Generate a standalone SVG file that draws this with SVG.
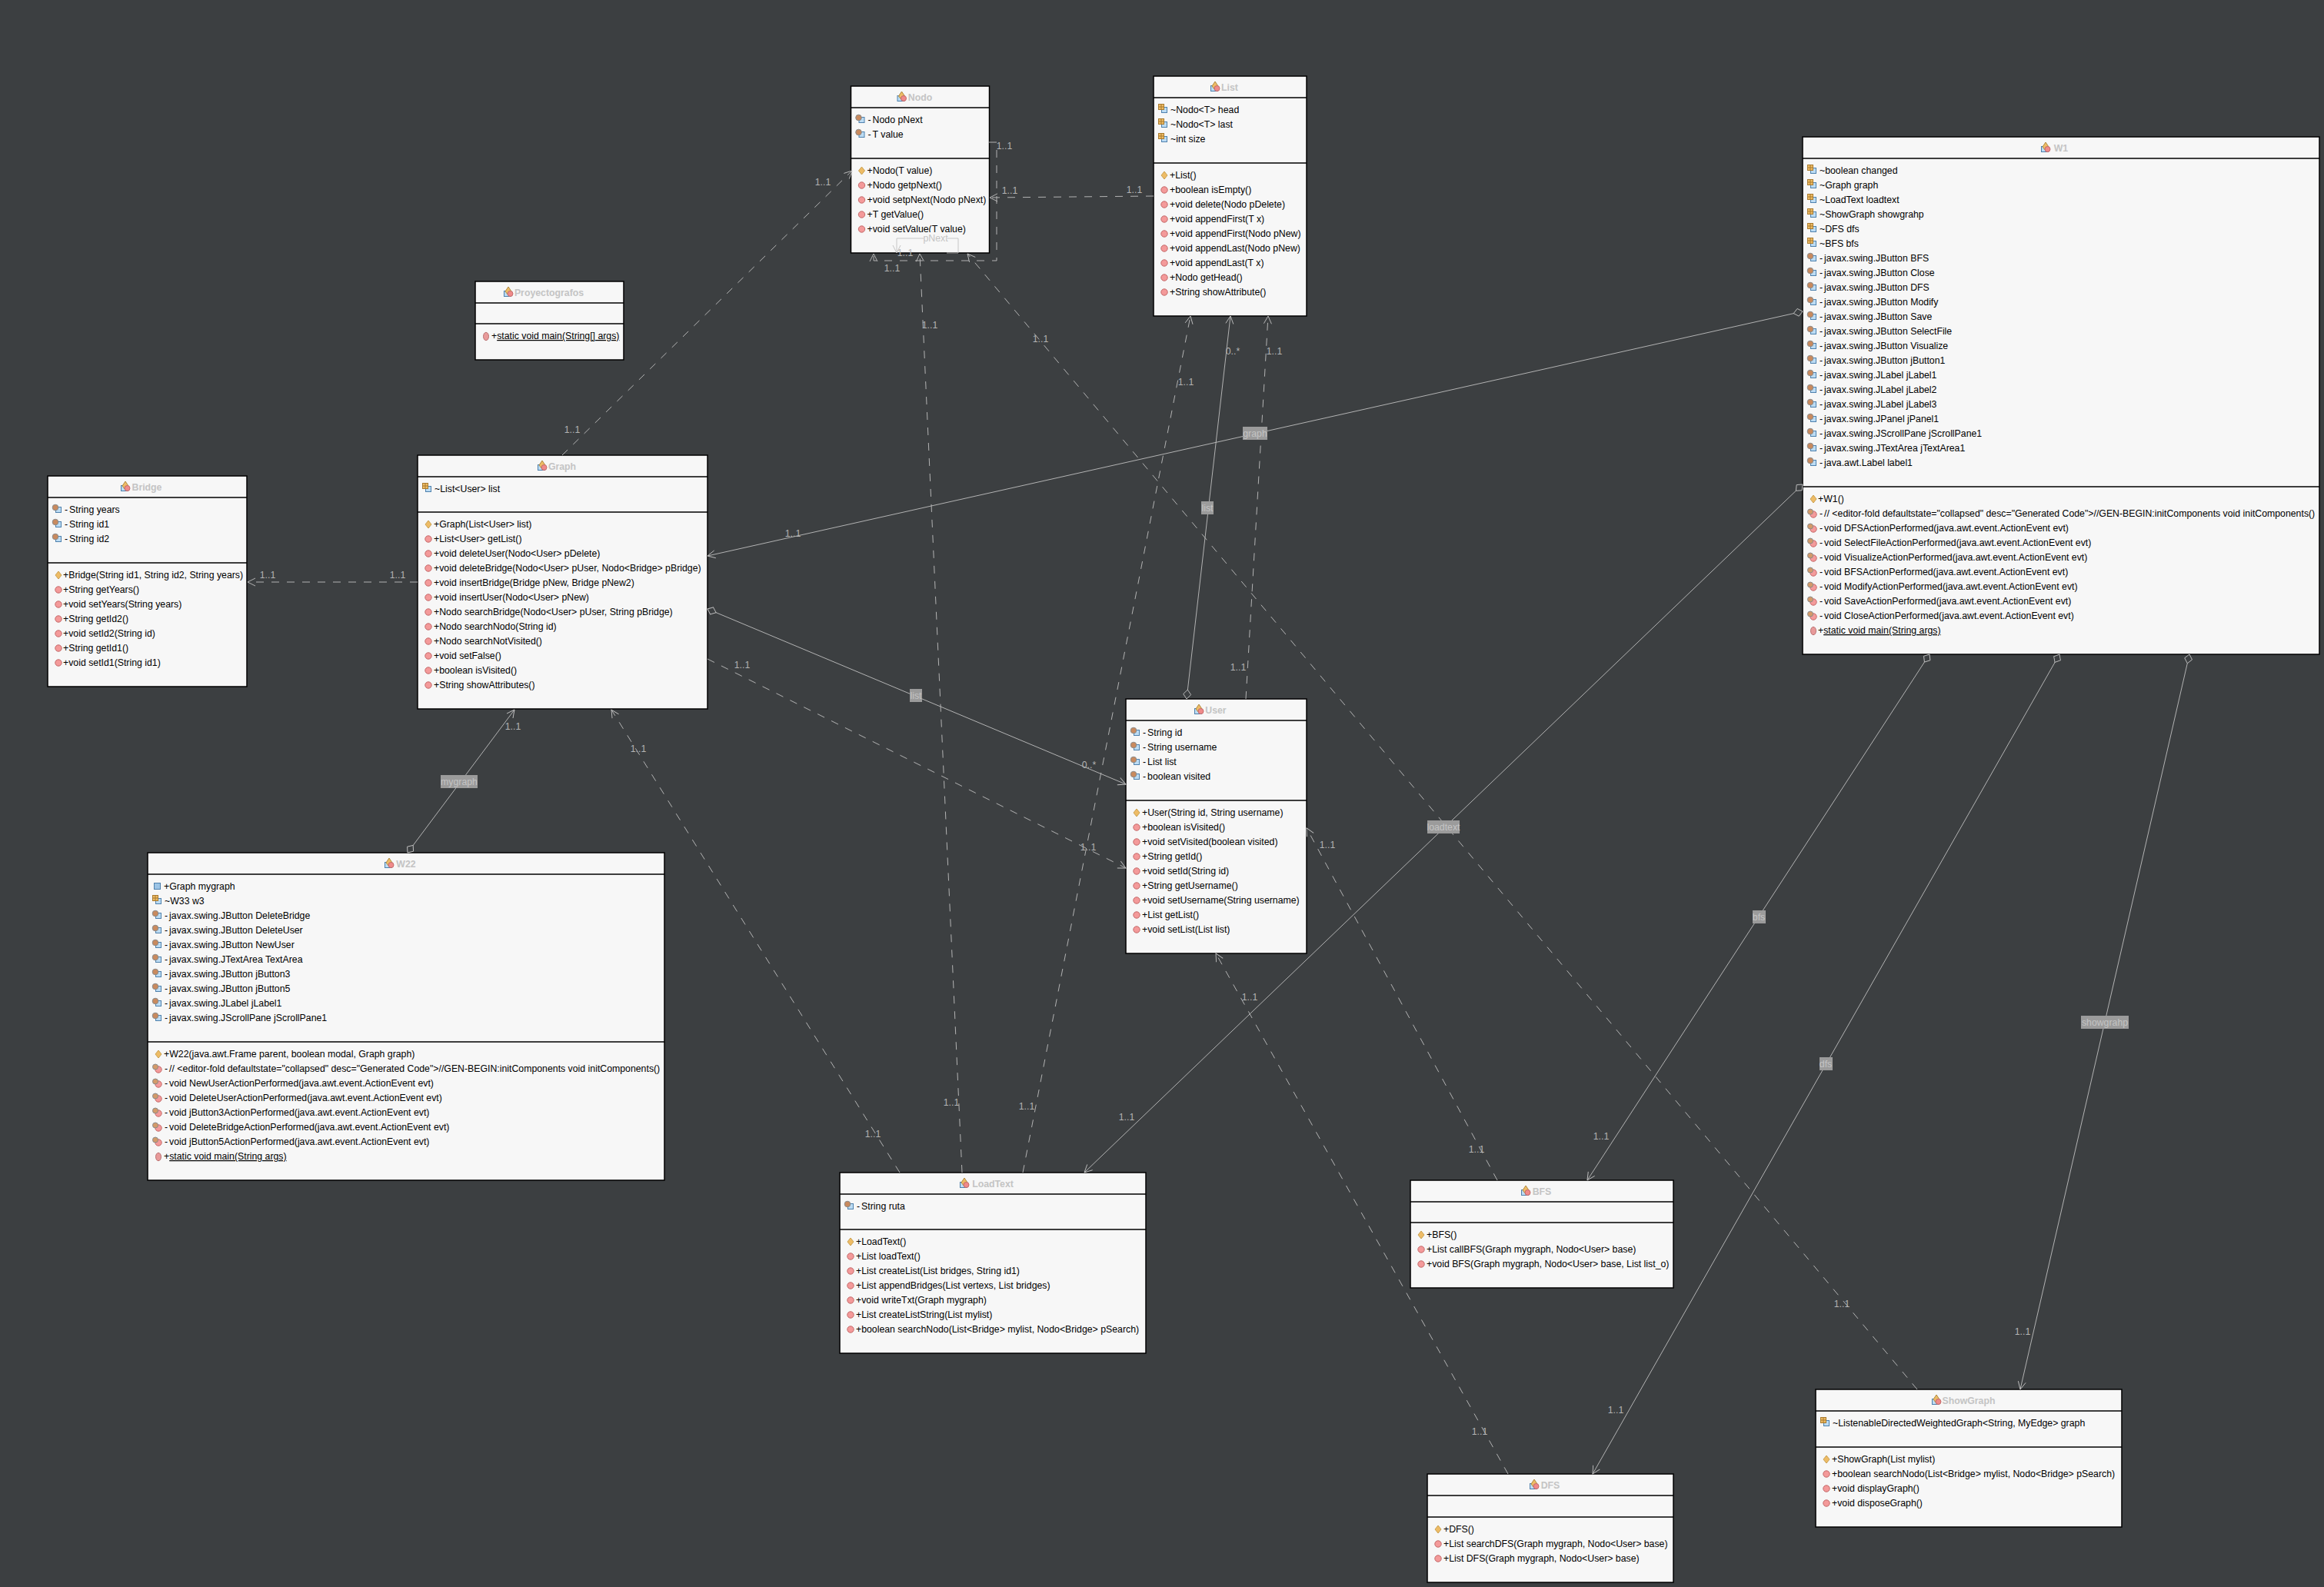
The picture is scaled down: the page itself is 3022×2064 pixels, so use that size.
<svg xmlns="http://www.w3.org/2000/svg" width="3022" height="2064" viewBox="0 0 3022 2064">
<style>
text{font-family:"Liberation Sans",Arial,sans-serif;font-size:12.3px;fill:#000;transform:translateY(-.5px)}
.box{fill:#f7f7f7;stroke:#000;stroke-width:1.5}
.sep{stroke:#000;stroke-width:1.5}
.n{font-weight:bold;fill:#c4c4c4;text-anchor:middle}
.c{fill:none;stroke:#c0c0c0;stroke-width:.9}
.d{stroke-dasharray:10 10}
.a{marker-end:url(#arr)}
.o{marker-start:url(#dia)}
.l{fill:#b4b4b4;text-anchor:middle}
.lb{fill:#9b9b9b}
.lt{fill:#c4c4c4;text-anchor:middle}
.u{text-decoration:underline}
</style>
<defs>
<marker id="arr" markerUnits="userSpaceOnUse" markerWidth="16" markerHeight="16" refX="10" refY="6" orient="auto" overflow="visible"><path d="M0,1L10,6L0,11" fill="none" stroke="#c0c0c0" stroke-width=".9"/></marker>
<marker id="dia" markerUnits="userSpaceOnUse" markerWidth="16" markerHeight="12" refX="0" refY="5" orient="auto" overflow="visible"><path d="M0,5L6,0L12,5L6,10Z" fill="#3c3f41" stroke="#c0c0c0" stroke-width=".9"/></marker>
<g id="doc"><rect x="10.500" y="-7.500" width="7" height="7" fill="#bcdcf4" stroke="#4f81ad"/></g>
<g id="ifield"><use href="#doc"/><rect x="6.500" y="-11.500" width="7" height="7" fill="#eebc66" stroke="#a87a2e"/><path d="M6.500,-8H13.500M10,-11.500V-4.500" stroke="#a87a2e"/></g>
<g id="pfield"><use href="#doc"/><circle cx="10" cy="-7" r="3.800" fill="#c98a5e" stroke="#8a8a8a"/></g>
<rect id="pub" x="8.500" y="-8.500" width="8" height="8" fill="#9cc4e6" stroke="#4f81ad"/>
<path id="ctor" d="M14,-9.500L18,-4.500L14,0.500L10,-4.500Z" fill="#eebc66" stroke="#c9a050"/>
<circle id="mth" cx="14" cy="-4.500" r="4.200" fill="#f49a9a" stroke="#c46a6a"/>
<g id="pmth"><circle cx="14" cy="-3.500" r="4.200" fill="#f49a9a" stroke="#c46a6a"/><circle cx="10" cy="-7" r="3.500" fill="#d49a68" stroke="#8a8a8a"/></g>
<ellipse id="smth" cx="14" cy="-4" rx="3.500" ry="5.200" fill="#e89a9a" stroke="#b87070"/>
<g id="cls"><rect x="0.500" y="-6.500" width="9" height="7" fill="#bcdcf4" stroke="#4f81ad"/><path d="M6,-12L10,-6L6,-1L2,-6Z" fill="#eebc66" stroke="#b08a40"/><circle cx="8.500" cy="-3" r="3.500" fill="#f08a8a" stroke="#c46a6a"/></g>
</defs>
<rect width="3022" height="2064" fill="#3c3f41"/>

<g id="Nodo" transform="translate(1106.500,112)">
<rect class="box" width="180" height="217"/><path class="sep" d="M0,28H180M0,94H180"/>
<use href="#cls" x="60" y="19"/><text class="n" x="90" y="19">Nodo</text>
<use href="#pfield" y="48"/><text x="22" y="48">-<tspan dx="2">Nodo pNext</tspan></text>
<use href="#pfield" y="67"/><text x="22" y="67">-<tspan dx="2">T value</tspan></text>
<use href="#ctor" y="114.500"/><text x="21" y="114.500">+Nodo(T value)</text>
<use href="#mth" y="133.500"/><text x="21" y="133.500">+Nodo getpNext()</text>
<use href="#mth" y="152.500"/><text x="21" y="152.500">+void setpNext(Nodo pNext)</text>
<use href="#mth" y="171.500"/><text x="21" y="171.500">+T getValue()</text>
<use href="#mth" y="190.500"/><text x="21" y="190.500">+void setValue(T value)</text>
</g>

<g id="List" transform="translate(1500,99)">
<rect class="box" width="199" height="312"/><path class="sep" d="M0,28H199M0,113H199"/>
<use href="#cls" x="74" y="19"/><text class="n" x="99" y="19">List</text>
<use href="#ifield" y="48"/><text x="22" y="48">~Nodo&lt;T&gt; head</text>
<use href="#ifield" y="67"/><text x="22" y="67">~Nodo&lt;T&gt; last</text>
<use href="#ifield" y="86"/><text x="22" y="86">~int size</text>
<use href="#ctor" y="133.500"/><text x="21" y="133.500">+List()</text>
<use href="#mth" y="152.500"/><text x="21" y="152.500">+boolean isEmpty()</text>
<use href="#mth" y="171.500"/><text x="21" y="171.500">+void delete(Nodo pDelete)</text>
<use href="#mth" y="190.500"/><text x="21" y="190.500">+void appendFirst(T x)</text>
<use href="#mth" y="209.500"/><text x="21" y="209.500">+void appendFirst(Nodo pNew)</text>
<use href="#mth" y="228.500"/><text x="21" y="228.500">+void appendLast(Nodo pNew)</text>
<use href="#mth" y="247.500"/><text x="21" y="247.500">+void appendLast(T x)</text>
<use href="#mth" y="266.500"/><text x="21" y="266.500">+Nodo getHead()</text>
<use href="#mth" y="285.500"/><text x="21" y="285.500">+String showAttribute()</text>
</g>

<g id="Proyectografos" transform="translate(618,366)">
<rect class="box" width="193" height="102"/><path class="sep" d="M0,28H193M0,55H193"/>
<use href="#cls" x="37" y="19"/><text class="n" x="96" y="19">Proyectografos</text>
<use href="#smth" y="75.500"/><text x="21" y="75.500">+<tspan class="u">static void main(String[] args)</tspan></text>
</g>

<g id="W1" transform="translate(2344,178)">
<rect class="box" width="672" height="673"/><path class="sep" d="M0,28H672M0,455H672"/>
<use href="#cls" x="310" y="19"/><text class="n" x="336" y="19">W1</text>
<use href="#ifield" y="48"/><text x="22" y="48">~boolean changed</text>
<use href="#ifield" y="67"/><text x="22" y="67">~Graph graph</text>
<use href="#ifield" y="86"/><text x="22" y="86">~LoadText loadtext</text>
<use href="#ifield" y="105"/><text x="22" y="105">~ShowGraph showgrahp</text>
<use href="#ifield" y="124"/><text x="22" y="124">~DFS dfs</text>
<use href="#ifield" y="143"/><text x="22" y="143">~BFS bfs</text>
<use href="#pfield" y="162"/><text x="22" y="162">-<tspan dx="2">javax.swing.JButton BFS</tspan></text>
<use href="#pfield" y="181"/><text x="22" y="181">-<tspan dx="2">javax.swing.JButton Close</tspan></text>
<use href="#pfield" y="200"/><text x="22" y="200">-<tspan dx="2">javax.swing.JButton DFS</tspan></text>
<use href="#pfield" y="219"/><text x="22" y="219">-<tspan dx="2">javax.swing.JButton Modify</tspan></text>
<use href="#pfield" y="238"/><text x="22" y="238">-<tspan dx="2">javax.swing.JButton Save</tspan></text>
<use href="#pfield" y="257"/><text x="22" y="257">-<tspan dx="2">javax.swing.JButton SelectFile</tspan></text>
<use href="#pfield" y="276"/><text x="22" y="276">-<tspan dx="2">javax.swing.JButton Visualize</tspan></text>
<use href="#pfield" y="295"/><text x="22" y="295">-<tspan dx="2">javax.swing.JButton jButton1</tspan></text>
<use href="#pfield" y="314"/><text x="22" y="314">-<tspan dx="2">javax.swing.JLabel jLabel1</tspan></text>
<use href="#pfield" y="333"/><text x="22" y="333">-<tspan dx="2">javax.swing.JLabel jLabel2</tspan></text>
<use href="#pfield" y="352"/><text x="22" y="352">-<tspan dx="2">javax.swing.JLabel jLabel3</tspan></text>
<use href="#pfield" y="371"/><text x="22" y="371">-<tspan dx="2">javax.swing.JPanel jPanel1</tspan></text>
<use href="#pfield" y="390"/><text x="22" y="390">-<tspan dx="2">javax.swing.JScrollPane jScrollPane1</tspan></text>
<use href="#pfield" y="409"/><text x="22" y="409">-<tspan dx="2">javax.swing.JTextArea jTextArea1</tspan></text>
<use href="#pfield" y="428"/><text x="22" y="428">-<tspan dx="2">java.awt.Label label1</tspan></text>
<use href="#ctor" y="475.500"/><text x="20" y="475.500">+W1()</text>
<use href="#pmth" y="494.500"/><text x="22" y="494.500">-<tspan dx="2">// &lt;editor-fold defaultstate="collapsed" desc="Generated Code"&gt;//GEN-BEGIN:initComponents void initComponents()</tspan></text>
<use href="#pmth" y="513.500"/><text x="22" y="513.500">-<tspan dx="2">void DFSActionPerformed(java.awt.event.ActionEvent evt)</tspan></text>
<use href="#pmth" y="532.500"/><text x="22" y="532.500">-<tspan dx="2">void SelectFileActionPerformed(java.awt.event.ActionEvent evt)</tspan></text>
<use href="#pmth" y="551.500"/><text x="22" y="551.500">-<tspan dx="2">void VisualizeActionPerformed(java.awt.event.ActionEvent evt)</tspan></text>
<use href="#pmth" y="570.500"/><text x="22" y="570.500">-<tspan dx="2">void BFSActionPerformed(java.awt.event.ActionEvent evt)</tspan></text>
<use href="#pmth" y="589.500"/><text x="22" y="589.500">-<tspan dx="2">void ModifyActionPerformed(java.awt.event.ActionEvent evt)</tspan></text>
<use href="#pmth" y="608.500"/><text x="22" y="608.500">-<tspan dx="2">void SaveActionPerformed(java.awt.event.ActionEvent evt)</tspan></text>
<use href="#pmth" y="627.500"/><text x="22" y="627.500">-<tspan dx="2">void CloseActionPerformed(java.awt.event.ActionEvent evt)</tspan></text>
<use href="#smth" y="646.500"/><text x="20" y="646.500">+<tspan class="u">static void main(String args)</tspan></text>
</g>

<g id="Bridge" transform="translate(62,619)">
<rect class="box" width="259" height="274"/><path class="sep" d="M0,28H259M0,113H259"/>
<use href="#cls" x="95" y="19"/><text class="n" x="129" y="19">Bridge</text>
<use href="#pfield" y="48"/><text x="22" y="48">-<tspan dx="2">String years</tspan></text>
<use href="#pfield" y="67"/><text x="22" y="67">-<tspan dx="2">String id1</tspan></text>
<use href="#pfield" y="86"/><text x="22" y="86">-<tspan dx="2">String id2</tspan></text>
<use href="#ctor" y="133.500"/><text x="20" y="133.500">+Bridge(String id1, String id2, String years)</text>
<use href="#mth" y="152.500"/><text x="20" y="152.500">+String getYears()</text>
<use href="#mth" y="171.500"/><text x="20" y="171.500">+void setYears(String years)</text>
<use href="#mth" y="190.500"/><text x="20" y="190.500">+String getId2()</text>
<use href="#mth" y="209.500"/><text x="20" y="209.500">+void setId2(String id)</text>
<use href="#mth" y="228.500"/><text x="20" y="228.500">+String getId1()</text>
<use href="#mth" y="247.500"/><text x="20" y="247.500">+void setId1(String id1)</text>
</g>

<g id="Graph" transform="translate(543,592)">
<rect class="box" width="377" height="330"/><path class="sep" d="M0,28H377M0,74H377"/>
<use href="#cls" x="156" y="19"/><text class="n" x="188" y="19">Graph</text>
<use href="#ifield" y="48"/><text x="22" y="48">~List&lt;User&gt; list</text>
<use href="#ctor" y="94.500"/><text x="21" y="94.500">+Graph(List&lt;User&gt; list)</text>
<use href="#mth" y="113.500"/><text x="21" y="113.500">+List&lt;User&gt; getList()</text>
<use href="#mth" y="132.500"/><text x="21" y="132.500">+void deleteUser(Nodo&lt;User&gt; pDelete)</text>
<use href="#mth" y="151.500"/><text x="21" y="151.500">+void deleteBridge(Nodo&lt;User&gt; pUser, Nodo&lt;Bridge&gt; pBridge)</text>
<use href="#mth" y="170.500"/><text x="21" y="170.500">+void insertBridge(Bridge pNew, Bridge pNew2)</text>
<use href="#mth" y="189.500"/><text x="21" y="189.500">+void insertUser(Nodo&lt;User&gt; pNew)</text>
<use href="#mth" y="208.500"/><text x="21" y="208.500">+Nodo searchBridge(Nodo&lt;User&gt; pUser, String pBridge)</text>
<use href="#mth" y="227.500"/><text x="21" y="227.500">+Nodo searchNodo(String id)</text>
<use href="#mth" y="246.500"/><text x="21" y="246.500">+Nodo searchNotVisited()</text>
<use href="#mth" y="265.500"/><text x="21" y="265.500">+void setFalse()</text>
<use href="#mth" y="284.500"/><text x="21" y="284.500">+boolean isVisited()</text>
<use href="#mth" y="303.500"/><text x="21" y="303.500">+String showAttributes()</text>
</g>

<g id="W22" transform="translate(192,1109)">
<rect class="box" width="672" height="426"/><path class="sep" d="M0,28H672M0,246H672"/>
<use href="#cls" x="308" y="19"/><text class="n" x="336" y="19">W22</text>
<use href="#pub" y="48"/><text x="21" y="48">+Graph mygraph</text>
<use href="#ifield" y="67"/><text x="22" y="67">~W33 w3</text>
<use href="#pfield" y="86"/><text x="22" y="86">-<tspan dx="2">javax.swing.JButton DeleteBridge</tspan></text>
<use href="#pfield" y="105"/><text x="22" y="105">-<tspan dx="2">javax.swing.JButton DeleteUser</tspan></text>
<use href="#pfield" y="124"/><text x="22" y="124">-<tspan dx="2">javax.swing.JButton NewUser</tspan></text>
<use href="#pfield" y="143"/><text x="22" y="143">-<tspan dx="2">javax.swing.JTextArea TextArea</tspan></text>
<use href="#pfield" y="162"/><text x="22" y="162">-<tspan dx="2">javax.swing.JButton jButton3</tspan></text>
<use href="#pfield" y="181"/><text x="22" y="181">-<tspan dx="2">javax.swing.JButton jButton5</tspan></text>
<use href="#pfield" y="200"/><text x="22" y="200">-<tspan dx="2">javax.swing.JLabel jLabel1</tspan></text>
<use href="#pfield" y="219"/><text x="22" y="219">-<tspan dx="2">javax.swing.JScrollPane jScrollPane1</tspan></text>
<use href="#ctor" y="266.500"/><text x="21" y="266.500">+W22(java.awt.Frame parent, boolean modal, Graph graph)</text>
<use href="#pmth" y="285.500"/><text x="22" y="285.500">-<tspan dx="2">// &lt;editor-fold defaultstate="collapsed" desc="Generated Code"&gt;//GEN-BEGIN:initComponents void initComponents()</tspan></text>
<use href="#pmth" y="304.500"/><text x="22" y="304.500">-<tspan dx="2">void NewUserActionPerformed(java.awt.event.ActionEvent evt)</tspan></text>
<use href="#pmth" y="323.500"/><text x="22" y="323.500">-<tspan dx="2">void DeleteUserActionPerformed(java.awt.event.ActionEvent evt)</tspan></text>
<use href="#pmth" y="342.500"/><text x="22" y="342.500">-<tspan dx="2">void jButton3ActionPerformed(java.awt.event.ActionEvent evt)</tspan></text>
<use href="#pmth" y="361.500"/><text x="22" y="361.500">-<tspan dx="2">void DeleteBridgeActionPerformed(java.awt.event.ActionEvent evt)</tspan></text>
<use href="#pmth" y="380.500"/><text x="22" y="380.500">-<tspan dx="2">void jButton5ActionPerformed(java.awt.event.ActionEvent evt)</tspan></text>
<use href="#smth" y="399.500"/><text x="21" y="399.500">+<tspan class="u">static void main(String args)</tspan></text>
</g>

<g id="User" transform="translate(1464,909)">
<rect class="box" width="235" height="331"/><path class="sep" d="M0,28H235M0,132H235"/>
<use href="#cls" x="89" y="19"/><text class="n" x="117" y="19">User</text>
<use href="#pfield" y="48"/><text x="22" y="48">-<tspan dx="2">String id</tspan></text>
<use href="#pfield" y="67"/><text x="22" y="67">-<tspan dx="2">String username</tspan></text>
<use href="#pfield" y="86"/><text x="22" y="86">-<tspan dx="2">List list</tspan></text>
<use href="#pfield" y="105"/><text x="22" y="105">-<tspan dx="2">boolean visited</tspan></text>
<use href="#ctor" y="152.500"/><text x="21" y="152.500">+User(String id, String username)</text>
<use href="#mth" y="171.500"/><text x="21" y="171.500">+boolean isVisited()</text>
<use href="#mth" y="190.500"/><text x="21" y="190.500">+void setVisited(boolean visited)</text>
<use href="#mth" y="209.500"/><text x="21" y="209.500">+String getId()</text>
<use href="#mth" y="228.500"/><text x="21" y="228.500">+void setId(String id)</text>
<use href="#mth" y="247.500"/><text x="21" y="247.500">+String getUsername()</text>
<use href="#mth" y="266.500"/><text x="21" y="266.500">+void setUsername(String username)</text>
<use href="#mth" y="285.500"/><text x="21" y="285.500">+List getList()</text>
<use href="#mth" y="304.500"/><text x="21" y="304.500">+void setList(List list)</text>
</g>

<g id="LoadText" transform="translate(1092,1525)">
<rect class="box" width="398" height="235"/><path class="sep" d="M0,28H398M0,74H398"/>
<use href="#cls" x="156" y="19"/><text class="n" x="199" y="19">LoadText</text>
<use href="#pfield" y="48"/><text x="22" y="48">-<tspan dx="2">String ruta</tspan></text>
<use href="#ctor" y="94.500"/><text x="21" y="94.500">+LoadText()</text>
<use href="#mth" y="113.500"/><text x="21" y="113.500">+List loadText()</text>
<use href="#mth" y="132.500"/><text x="21" y="132.500">+List createList(List bridges, String id1)</text>
<use href="#mth" y="151.500"/><text x="21" y="151.500">+List appendBridges(List vertexs, List bridges)</text>
<use href="#mth" y="170.500"/><text x="21" y="170.500">+void writeTxt(Graph mygraph)</text>
<use href="#mth" y="189.500"/><text x="21" y="189.500">+List createListString(List mylist)</text>
<use href="#mth" y="208.500"/><text x="21" y="208.500">+boolean searchNodo(List&lt;Bridge&gt; mylist, Nodo&lt;Bridge&gt; pSearch)</text>
</g>

<g id="BFS" transform="translate(1834,1535)">
<rect class="box" width="342" height="140"/><path class="sep" d="M0,28H342M0,55H342"/>
<use href="#cls" x="144" y="19"/><text class="n" x="171" y="19">BFS</text>
<use href="#ctor" y="75.500"/><text x="21" y="75.500">+BFS()</text>
<use href="#mth" y="94.500"/><text x="21" y="94.500">+List callBFS(Graph mygraph, Nodo&lt;User&gt; base)</text>
<use href="#mth" y="113.500"/><text x="21" y="113.500">+void BFS(Graph mygraph, Nodo&lt;User&gt; base, List list_o)</text>
</g>

<g id="DFS" transform="translate(1856,1917)">
<rect class="box" width="320" height="141"/><path class="sep" d="M0,28H320M0,56H320"/>
<use href="#cls" x="133" y="19"/><text class="n" x="160" y="19">DFS</text>
<use href="#ctor" y="76.500"/><text x="21" y="76.500">+DFS()</text>
<use href="#mth" y="95.500"/><text x="21" y="95.500">+List searchDFS(Graph mygraph, Nodo&lt;User&gt; base)</text>
<use href="#mth" y="114.500"/><text x="21" y="114.500">+List DFS(Graph mygraph, Nodo&lt;User&gt; base)</text>
</g>

<g id="ShowGraph" transform="translate(2361,1807)">
<rect class="box" width="398" height="179"/><path class="sep" d="M0,28H398M0,75H398"/>
<use href="#cls" x="151" y="19"/><text class="n" x="199" y="19">ShowGraph</text>
<use href="#ifield" y="48"/><text x="22" y="48">~ListenableDirectedWeightedGraph&lt;String, MyEdge&gt; graph</text>
<use href="#ctor" y="95.500"/><text x="21" y="95.500">+ShowGraph(List mylist)</text>
<use href="#mth" y="114.500"/><text x="21" y="114.500">+boolean searchNodo(List&lt;Bridge&gt; mylist, Nodo&lt;Bridge&gt; pSearch)</text>
<use href="#mth" y="133.500"/><text x="21" y="133.500">+void displayGraph()</text>
<use href="#mth" y="152.500"/><text x="21" y="152.500">+void disposeGraph()</text>
</g>

<g id="connectors">
<path class="c d a" d="M731,592L1108,222"/>
<path class="c a" d="M1231,329H1246V310H1166V329"/>
<path class="c d a" d="M1286,185H1296V339H1136V330"/>
<path class="c d a" d="M1500,255L1287,257"/>
<path class="c d a" d="M1251,1525L1196,330"/>
<path class="c d a" d="M1330,1525L1548,411"/>
<path class="c d a" d="M1170,1525L795,923"/>
<path class="c o a" d="M530,1109L669,923"/>
<path class="c d a" d="M543,757L322,757"/>
<path class="c o a" d="M2344,405L920,723"/>
<path class="c o a" d="M1543,909L1600,411"/>
<path class="c d a" d="M1620,909L1649,411"/>
<path class="c o a" d="M920,792L1464,1020"/>
<path class="c d a" d="M920,857L1464,1129"/>
<path class="c d a" d="M1961,1917L1581,1240"/>
<path class="c d a" d="M1947,1535L1699,1077"/>
<path class="c d a" d="M2493,1807L1258,330"/>
<path class="c o a" d="M2344,630L1410,1525"/>
<path class="c o a" d="M2509,851L2064,1535"/>
<path class="c o a" d="M2678,851L2071,1917"/>
<path class="c o a" d="M2847,851L2627,1807"/>
<rect x="1201" y="302" width="31" height="16" fill="#f7f7f7"/>
<text x="1216.500" y="314" class="lt">pNext</text>
<rect class="lb" x="573" y="1008" width="48" height="17"/><text class="lt" x="597" y="1021">mygraph</text>
<rect class="lb" x="1616" y="555" width="32" height="17"/><text class="lt" x="1632" y="568">graph</text>
<rect class="lb" x="1562" y="652" width="16" height="17"/><text class="lt" x="1570" y="665">list</text>
<rect class="lb" x="1183" y="896" width="16" height="17"/><text class="lt" x="1191" y="909">list</text>
<rect class="lb" x="1856" y="1067" width="42" height="17"/><text class="lt" x="1877" y="1080">loadtext</text>
<rect class="lb" x="2279" y="1184" width="17" height="17"/><text class="lt" x="2287" y="1197">bfs</text>
<rect class="lb" x="2366" y="1375" width="17" height="17"/><text class="lt" x="2374" y="1388">dfs</text>
<rect class="lb" x="2706" y="1321" width="62" height="17"/><text class="lt" x="2737" y="1334">showgrahp</text>
<text class="l" x="1070" y="241">1..1</text>
<text class="l" x="744" y="563">1..1</text>
<text class="l" x="1306" y="194">1..1</text>
<text class="l" x="1160" y="353">1..1</text>
<text class="l" x="1177" y="333">1..1</text>
<text class="l" x="1313" y="252">1..1</text>
<text class="l" x="1475" y="251">1..1</text>
<text class="l" x="1209" y="427">1..1</text>
<text class="l" x="1237" y="1438">1..1</text>
<text class="l" x="1335" y="1443">1..1</text>
<text class="l" x="1542" y="501">1..1</text>
<text class="l" x="1135" y="1479">1..1</text>
<text class="l" x="830" y="978">1..1</text>
<text class="l" x="667" y="949">1..1</text>
<text class="l" x="348" y="752">1..1</text>
<text class="l" x="517" y="752">1..1</text>
<text class="l" x="1031" y="698">1..1</text>
<text class="l" x="1603" y="461">0..*</text>
<text class="l" x="1657" y="461">1..1</text>
<text class="l" x="1610" y="872">1..1</text>
<text class="l" x="1416" y="999">0..*</text>
<text class="l" x="1415" y="1106">1..1</text>
<text class="l" x="965" y="869">1..1</text>
<text class="l" x="1625" y="1301">1..1</text>
<text class="l" x="1924" y="1866">1..1</text>
<text class="l" x="1726" y="1103">1..1</text>
<text class="l" x="1920" y="1499">1..1</text>
<text class="l" x="1353" y="445">1..1</text>
<text class="l" x="2395" y="1700">1..1</text>
<text class="l" x="1465" y="1457">1..1</text>
<text class="l" x="2082" y="1482">1..1</text>
<text class="l" x="2101" y="1838">1..1</text>
<text class="l" x="2630" y="1736">1..1</text>
</g>
</svg>
